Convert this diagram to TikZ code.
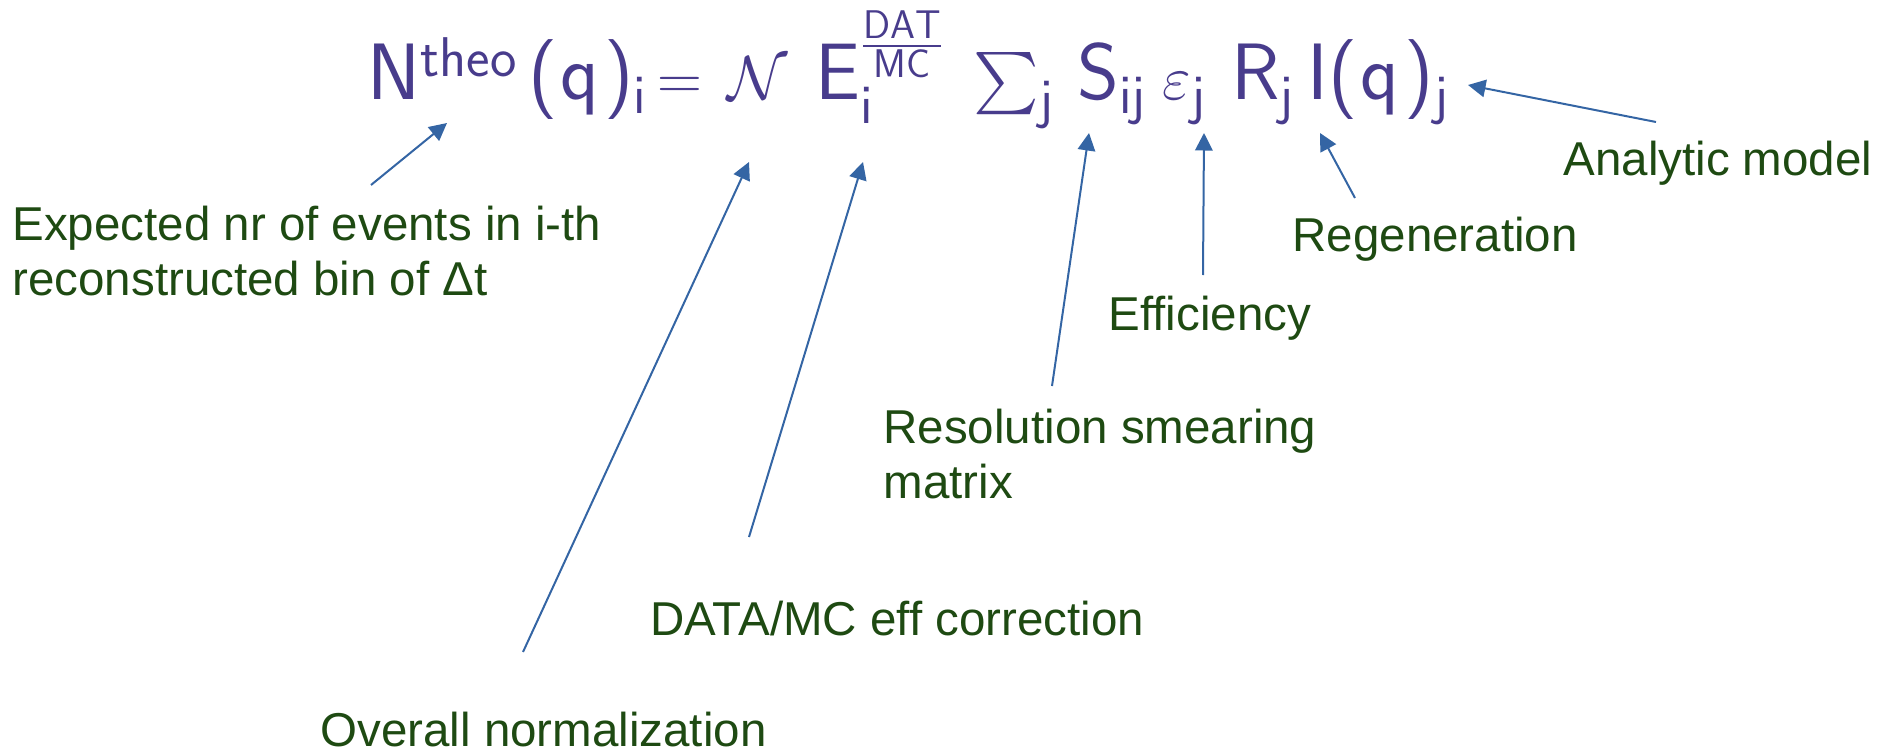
\documentclass[tikz,border=0pt]{standalone}
\usepackage{amsmath}
\usepackage{fontspec}
\newfontfamily\labelfont{Liberation Sans}
\usetikzlibrary{arrows.meta}
\definecolor{formulaviolet}{HTML}{483C8C}
\definecolor{labelgreen}{HTML}{1E4A12}
\definecolor{arrowblue}{HTML}{3465A4}
\newcommand{\sv}[1]{\mathsf{#1}}
\newcommand{\sq}{\text{\sffamily(}\mkern1mu\sv{q}\mkern1.5mu\text{\sffamily)}}

\begin{document}
\begin{tikzpicture}[
    x=0.4pt, y=-0.4pt,
    term/.style={inner sep=0pt, anchor=base west, text=formulaviolet, font=\fontsize{32}{38}\selectfont},
    label/.style={inner sep=0pt, anchor=west, align=left, text=labelgreen, font=\labelfont\fontsize{19}{22}\selectfont},
    arrow/.style={-{Triangle[length=7pt, width=7pt]}, arrowblue, line width=0.8pt}
]
\useasboundingbox (0,0) rectangle (1893,753);

% formula, one term at a time
\node[term] (lhs) at (367,99) {$\sv{N}^{\sv{theo}}\mkern3mu\sq{}_{\sv{i}}$};
\node[term] (equals) at (657,99) {$=$};
\node[term] (normsym) at (727,99) {$\mathcal{N}$};
\node[term] (Eterm) at (815,99) {$\sv{E}_{\sv{i}}^{\frac{\sv{DAT}}{\sv{MC}}}$};
\node[term] (sumterm) at (973,99) {$\sum_{\sv{j}}$};
\node[term] (Sterm) at (1077,99) {$\sv{S}_{\sv{ij}}$};
\node[term] (epsterm) at (1162,99) {$\varepsilon_{\sv{j}}$};
\node[term] (Rterm) at (1231,99) {$\sv{R}_{\sv{j}}$};
\node[term] (Iterm) at (1307,99) {$\sv{I}\sq{}_{\sv{j}}$};

% labels
\node[label] (expected) at (12,251) {Expected nr of events in i-th\\reconstructed bin of Δt};
\node[label] (norm) at (320,730) {Overall normalization};
\node[label] (datamc) at (650,619) {DATA/MC eff correction};
\node[label] (resol) at (883,454) {Resolution smearing\\matrix};
\node[label] (effic) at (1108,318) {Efficiency};
\node[label] (regen) at (1292,239) {Regeneration};
\node[label] (model) at (1563,163) {Analytic model};

% arrow ends
\coordinate (expected-tail) at (371,185);
\coordinate (expected-head) at (447,123);
\coordinate (norm-tail) at (523,652);
\coordinate (norm-head) at (749,162);
\coordinate (datamc-tail) at (749,537);
\coordinate (datamc-head) at (863,162);
\coordinate (resol-tail) at (1052,386);
\coordinate (resol-head) at (1089,133);
\coordinate (effic-tail) at (1203,275);
\coordinate (effic-head) at (1204,133);
\coordinate (regen-tail) at (1355,198);
\coordinate (regen-head) at (1320,133);
\coordinate (model-tail) at (1656,122);
\coordinate (model-head) at (1468,85);

\foreach \part in {expected, norm, datamc, resol, effic, regen, model}
  \draw[arrow] (\part-tail) -- (\part-head);
\end{tikzpicture}
\end{document}
